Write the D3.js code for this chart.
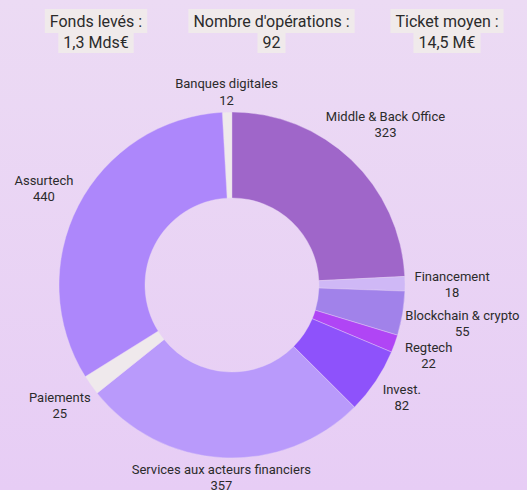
<!DOCTYPE html>
<html lang="fr">
<head>
  <meta charset="UTF-8">
  <title>Fintech donut</title>
  <script src="https://d3js.org/d3.v7.min.js"></script>
  <style>
    html, body { margin: 0; padding: 0; }
    body { width: 527px; height: 490px; overflow: hidden;
           background: linear-gradient(#ecdbf4, #e7cdf5); }
    svg text { font-family: Roboto, "Noto Sans", sans-serif; fill: #2b2b2b; }
  </style>
</head>
<body>
  <svg width="527" height="490"></svg>
  <script>
    // data
    const categories = ["Banques digitales", "Middle & Back Office", "Financement", "Blockchain & crypto",
                        "Regtech", "Invest.", "Services aux acteurs financiers", "Paiements", "Assurtech"];
    const values = [12, 323, 18, 55, 22, 82, 357, 25, 440];
    const colors = ["#efe9ec", "#9f66c9", "#cfb8f6", "#a182ea", "#b045f5", "#8e52fb", "#b99afb", "#efe9ec", "#ad87fb"];
    const statLabels = ["Fonds levés :", "Nombre d'opérations :", "Ticket moyen :"];
    const statValues = ["1,3 Mds€", "92", "14,5 M€"];

    const svg = d3.select("svg"),
          width = +svg.attr("width");

    const cx = 232, cy = 285, outer = 173, inner = 87;
    const total = d3.sum(values);
    const offset = -values[0] / total * 2 * Math.PI;

    const data = categories.map((c, i) => ({ name: c, value: values[i], color: colors[i] }));

    const pie = d3.pie().value(d => d.value).sort(null)
                  .startAngle(offset).endAngle(offset + 2 * Math.PI);
    const arc = d3.arc().innerRadius(inner).outerRadius(outer);

    const g = svg.append("g").attr("transform", `translate(${cx},${cy})`);
    const arcs = pie(data);

    g.selectAll("path")
     .data(arcs)
     .enter().append("path")
     .attr("d", arc)
     .attr("fill", d => d.data.color)
     .attr("stroke", "#e9d6f4")
     .attr("stroke-width", 0.4);

    // labels, pushed out further when the text is wide and sits on a side
    const lab = g.selectAll(".lab")
     .data(arcs)
     .enter().append("g")
     .attr("class", "lab");

    lab.append("text")
       .attr("class", "name")
       .attr("text-anchor", "middle")
       .attr("font-size", 13)
       .attr("dy", "-0.2em")
       .text(d => d.data.name);
    lab.append("text")
       .attr("text-anchor", "middle")
       .attr("font-size", 13)
       .attr("dy", "1.05em")
       .text(d => d.data.value);

    lab.each(function(d) {
      const w = d3.select(this).select(".name").node().getComputedTextLength();
      const a = (d.startAngle + d.endAngle) / 2;
      const r = 193 + 0.72 * (w / 2) * Math.abs(Math.sin(a));
      const lift = 5 * Math.max(0, -Math.cos(a));
      d3.select(this).attr("transform", `translate(${r * Math.sin(a)},${-r * Math.cos(a) - lift})`);
    });

    // header stats
    const xs = d3.scalePoint().domain(statLabels).range([96, 447]);
    statLabels.forEach((s, i) => {
      const hg = svg.append("g").attr("transform", `translate(${xs(s)},0)`);
      const t1 = hg.append("text").attr("text-anchor", "middle").attr("y", 27)
                   .attr("font-size", 16).text(s);
      const t2 = hg.append("text").attr("text-anchor", "middle").attr("y", 48)
                   .attr("font-size", 16).text(statValues[i]);
      const w1 = t1.node().getComputedTextLength(), w2 = t2.node().getComputedTextLength();
      hg.insert("rect", "text").attr("x", -w1 / 2 - 5).attr("y", 9).attr("width", w1 + 10).attr("height", 24)
        .attr("fill", "#f0eaeb");
      hg.insert("rect", "text").attr("x", -w2 / 2 - 5).attr("y", 33).attr("width", w2 + 10).attr("height", 20)
        .attr("fill", "#f0eaeb");
    });
  </script>
</body>
</html>
